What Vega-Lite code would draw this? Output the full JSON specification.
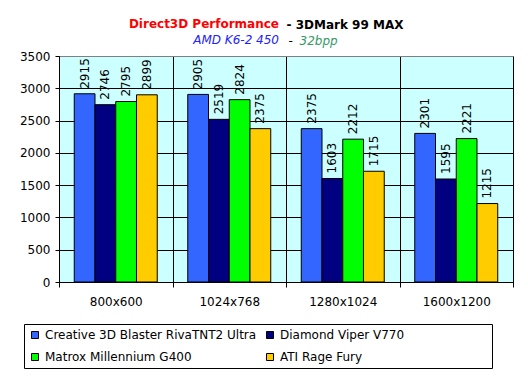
{
  "$schema": "https://vega.github.io/schema/vega-lite/v6.json",
  "width": 454,
  "height": 226,
  "autosize": "none",
  "padding": {"left": 59, "top": 56, "right": 15, "bottom": 95},
  "background": "white",
  "config": {
    "view": {"fill": "#CCFFFF", "stroke": "#808080", "strokeWidth": 1},
    "font": "Verdana, DejaVu Sans"
  },
  "title": {
    "text": "Direct3D Performance",
    "subtitle": "AMD K6-2 450",
    "anchor": "end",
    "frame": "group",
    "dx": -234,
    "offset": -29,
    "color": "#FF0000",
    "font": "Verdana, DejaVu Sans",
    "fontSize": 12,
    "fontWeight": "bold",
    "subtitleColor": "#2222FF",
    "subtitleFont": "Verdana, DejaVu Sans",
    "subtitleFontSize": 12,
    "subtitleFontStyle": "italic",
    "subtitlePadding": 4
  },
  "data": {
    "values": [
      {"res": "800x600", "card": "Creative 3D Blaster RivaTNT2 Ultra", "value": 2915},
      {"res": "800x600", "card": "Diamond Viper V770", "value": 2746},
      {"res": "800x600", "card": "Matrox Millennium G400", "value": 2795},
      {"res": "800x600", "card": "ATI Rage Fury", "value": 2899},
      {"res": "1024x768", "card": "Creative 3D Blaster RivaTNT2 Ultra", "value": 2905},
      {"res": "1024x768", "card": "Diamond Viper V770", "value": 2519},
      {"res": "1024x768", "card": "Matrox Millennium G400", "value": 2824},
      {"res": "1024x768", "card": "ATI Rage Fury", "value": 2375},
      {"res": "1280x1024", "card": "Creative 3D Blaster RivaTNT2 Ultra", "value": 2375},
      {"res": "1280x1024", "card": "Diamond Viper V770", "value": 1603},
      {"res": "1280x1024", "card": "Matrox Millennium G400", "value": 2212},
      {"res": "1280x1024", "card": "ATI Rage Fury", "value": 1715},
      {"res": "1600x1200", "card": "Creative 3D Blaster RivaTNT2 Ultra", "value": 2301},
      {"res": "1600x1200", "card": "Diamond Viper V770", "value": 1595},
      {"res": "1600x1200", "card": "Matrox Millennium G400", "value": 2221},
      {"res": "1600x1200", "card": "ATI Rage Fury", "value": 1215}
    ]
  },
  "layer": [
    {
      "mark": {"type": "bar", "stroke": "black", "strokeWidth": 1},
      "encoding": {
        "x": {
          "field": "res", "type": "nominal",
          "sort": ["800x600", "1024x768", "1280x1024", "1600x1200"],
          "scale": {"paddingInner": 0, "paddingOuter": 0},
          "axis": {
            "orient": "bottom", "title": null, "labelAngle": 0,
            "tickBand": "extent", "grid": true, "gridColor": "black",
            "tickColor": "black", "tickSize": 5, "domainColor": "black",
            "labelColor": "black", "labelFontSize": 12, "labelPadding": 9,
            "labelFont": "Verdana, DejaVu Sans"
          }
        },
        "xOffset": {
          "field": "card", "type": "nominal",
          "sort": ["Creative 3D Blaster RivaTNT2 Ultra", "Diamond Viper V770", "Matrox Millennium G400", "ATI Rage Fury"],
          "scale": {"paddingInner": 0, "paddingOuter": 0.735}
        },
        "y": {
          "field": "value", "type": "quantitative",
          "scale": {"domain": [0, 3500], "nice": false},
          "axis": {
            "orient": "left", "format": "d",
            "values": [0, 500, 1000, 1500, 2000, 2500, 3000, 3500],
            "grid": true,
            "gridColor": {"condition": {"test": "datum.value === 3500", "value": "#808080"}, "value": "black"},
            "tickColor": "black", "tickSize": 4, "domainColor": "black",
            "labelColor": "black", "labelFontSize": 12, "labelPadding": 5,
            "labelFont": "Verdana, DejaVu Sans",
            "title": "32bpp", "titleAngle": 0, "titleX": 240, "titleY": -12,
            "titleAlign": "left", "titleBaseline": "alphabetic",
            "titleColor": "#339966", "titleFontStyle": "italic", "titleFontWeight": "normal",
            "titleFontSize": 12, "titleFont": "Verdana, DejaVu Sans"
          }
        },
        "color": {
          "field": "card", "type": "nominal",
          "scale": {
            "domain": ["Creative 3D Blaster RivaTNT2 Ultra", "Matrox Millennium G400", "Diamond Viper V770", "ATI Rage Fury"],
            "range": ["#3366FF", "#00FF00", "#000080", "#FFCC00"]
          },
          "legend": {
            "orient": "none", "legendX": -35, "legendY": 268,
            "columns": 2, "columnPadding": 7, "rowPadding": 10,
            "strokeColor": "black", "fillColor": "white", "padding": 5,
            "symbolType": "square", "symbolSize": 49, "symbolStrokeColor": "black",
            "symbolStrokeWidth": 1, "symbolOpacity": 1,
            "labelFontSize": 12, "labelColor": "black", "labelOffset": 4, "labelLimit": 320,
            "labelFont": "Verdana, DejaVu Sans",
            "title": ".", "titleOrient": "right", "titlePadding": 78,
            "titleFontSize": 12, "titleOpacity": 0
          }
        }
      }
    },
    {
      "mark": {"type": "text", "angle": 270, "align": "left", "baseline": "middle", "dx": 5, "fontSize": 12, "color": "black", "font": "Verdana, DejaVu Sans"},
      "encoding": {
        "x": {
          "field": "res", "type": "nominal",
          "sort": ["800x600", "1024x768", "1280x1024", "1600x1200"],
          "axis": {
            "orient": "top", "labels": false, "ticks": false, "domain": false, "grid": false,
            "title": "- 3DMark 99 MAX", "titleX": 227, "titleY": -28,
            "titleAlign": "left", "titleBaseline": "alphabetic", "titleAngle": 0,
            "titleColor": "black", "titleFontWeight": "bold", "titleFontSize": 12,
            "titleFont": "Verdana, DejaVu Sans"
          }
        },
        "xOffset": {
          "field": "card", "type": "nominal",
          "sort": ["Creative 3D Blaster RivaTNT2 Ultra", "Diamond Viper V770", "Matrox Millennium G400", "ATI Rage Fury"]
        },
        "y": {
          "field": "value", "type": "quantitative",
          "axis": {
            "orient": "right", "labels": false, "ticks": false, "domain": false, "grid": false,
            "title": "-", "titleX": -225, "titleY": -12, "titleAngle": 0,
            "titleAlign": "left", "titleBaseline": "alphabetic",
            "titleColor": "black", "titleFontWeight": "normal", "titleFontSize": 12,
            "titleFont": "Verdana, DejaVu Sans"
          }
        },
        "text": {"field": "value", "type": "quantitative"}
      }
    }
  ],
  "resolve": {"axis": {"x": "independent", "y": "independent"}}
}
